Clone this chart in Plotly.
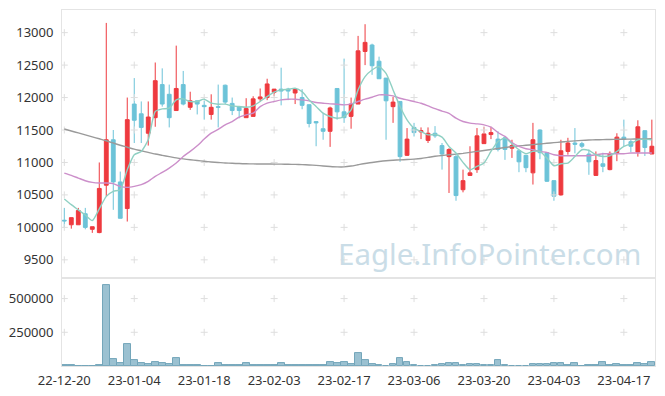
import plotly.graph_objects as go
from plotly.subplots import make_subplots

dates = [
    "2022-12-20", "2022-12-21", "2022-12-22", "2022-12-23", "2022-12-26", "2022-12-27", "2022-12-28", "2022-12-29",
    "2023-01-02", "2023-01-03", "2023-01-04", "2023-01-05", "2023-01-06", "2023-01-09", "2023-01-10", "2023-01-11",
    "2023-01-12", "2023-01-13", "2023-01-16", "2023-01-17", "2023-01-18", "2023-01-19", "2023-01-20", "2023-01-25",
    "2023-01-26", "2023-01-27", "2023-01-30", "2023-01-31", "2023-02-01", "2023-02-02", "2023-02-03", "2023-02-06",
    "2023-02-07", "2023-02-08", "2023-02-09", "2023-02-10", "2023-02-13", "2023-02-14", "2023-02-15", "2023-02-16",
    "2023-02-17", "2023-02-20", "2023-02-21", "2023-02-22", "2023-02-23", "2023-02-24", "2023-02-27", "2023-02-28",
    "2023-03-02", "2023-03-03", "2023-03-06", "2023-03-07", "2023-03-08", "2023-03-09", "2023-03-10", "2023-03-13",
    "2023-03-14", "2023-03-15", "2023-03-16", "2023-03-17", "2023-03-20", "2023-03-21", "2023-03-22", "2023-03-23",
    "2023-03-24", "2023-03-27", "2023-03-28", "2023-03-29", "2023-03-30", "2023-03-31", "2023-04-03", "2023-04-04",
    "2023-04-05", "2023-04-06", "2023-04-07", "2023-04-10", "2023-04-11", "2023-04-12", "2023-04-13", "2023-04-14",
    "2023-04-17", "2023-04-18", "2023-04-19", "2023-04-20", "2023-04-21",
]

open_ = [10110, 10040, 10040, 10210, 9970, 9920, 10650, 11350, 10700, 10290, 11900, 11750, 11450, 11690, 12200, 12050,
         11800, 12200, 11850, 11950, 11880, 11740, 11860, 12190, 11910, 11860, 11690, 11710, 11980, 12000, 12080, 12130,
         12130, 12070, 12000, 11890, 11630, 11520, 11480, 12140, 11780, 11710, 11900, 12710, 12810, 12560, 12300, 11860,
         11940, 11110, 11540, 11470, 11340, 11450, 11260, 11090, 11090, 10580, 10800, 10890, 11290, 11430, 11360, 11380,
         11220, 11180, 11110, 10840, 11500, 11150, 10720, 10500, 11170, 11300, 11290, 11130, 10800, 10980, 10890, 11150,
         11390, 11320, 11160, 11490, 11130]
high = [10300, 10150, 10300, 10300, 10010, 11000, 13150, 11500, 10860, 12000, 12300, 11940, 11940, 12540, 12450, 12200,
        12800, 12410, 12090, 11950, 11950, 12050, 12200, 12200, 12000, 11860, 11990, 12020, 12140, 12290, 12130, 12460,
        12150, 12140, 12130, 11890, 11630, 11760, 11860, 12140, 12600, 12000, 12950, 13130, 12830, 12630, 12300, 12010,
        11940, 11530, 11610, 11540, 11540, 11560, 11300, 11220, 11120, 10890, 11250, 11530, 11550, 11550, 11480, 11400,
        11350, 11200, 11110, 11610, 11510, 11160, 10720, 11350, 11380, 11530, 11320, 11200, 11170, 11150, 11170, 11450,
        11660, 11350, 11650, 11490, 11660]
low = [9990, 9980, 10040, 9970, 9915, 9910, 10480, 10270, 10140, 10090, 11300, 11300, 11260, 11550, 11860, 11540,
       11800, 11880, 11810, 11740, 11660, 11660, 11540, 11900, 11730, 11680, 11690, 11710, 11940, 11960, 12020, 11880,
       11960, 11900, 11820, 11540, 11250, 11350, 11240, 11660, 11610, 11520, 11900, 12500, 12350, 12290, 11350, 11610,
       11010, 11100, 11400, 11360, 11300, 11380, 10890, 10530, 10410, 10540, 10800, 10840, 11290, 11360, 11170, 11040,
       11070, 10850, 10850, 10660, 11050, 10700, 10410, 10490, 11120, 11140, 11220, 10810, 10800, 10850, 10880, 11020,
       11250, 11160, 11090, 11100, 11130]
close = [10100, 10150, 10260, 10000, 10010, 10600, 11350, 10700, 10140, 11660, 11650, 11540, 11700, 12260, 11900, 11690,
         12140, 11900, 11950, 11900, 11860, 11850, 11850, 11930, 11800, 11800, 11830, 11980, 12010, 12210, 12130, 12100,
         12100, 12130, 11880, 11600, 11610, 11480, 11840, 11780, 11690, 11900, 12720, 12850, 12490, 12290, 11950, 11930,
         11090, 11360, 11460, 11490, 11450, 11410, 11130, 11200, 10490, 10720, 10840, 11410, 11440, 11460, 11200, 11200,
         11260, 11010, 10920, 11350, 11150, 10710, 10480, 11180, 11300, 11280, 11250, 11010, 11030, 10940, 11140, 11390,
         11360, 11250, 11550, 11230, 11250]
volume = [5000, 5000, 0, 0, 0, 5000, 600000, 50000, 20000, 162000, 42000, 20000, 12000, 27000, 20000, 12000,
          62000, 5000, 5000, 5000, 0, 0, 25000, 5000, 5000, 5000, 20000, 5000, 5000, 5000, 5000, 20000,
          5000, 5000, 5000, 5000, 5000, 5000, 32000, 20000, 32000, 12000, 97500, 47500, 17500, 10000, 2500, 15000,
          62500, 32500, 10000, 2500, 2500, 7500, 15000, 22500, 22500, 5000, 15000, 15000, 5000, 10000, 47500, 5000,
          0, 2500, 2500, 15000, 15000, 15000, 22500, 22500, 10000, 22500, 0, 10000, 5000, 30000, 5000, 15000,
          10000, 5000, 22500, 15000, 30000]
ma_short = [10437, 10350, 10270, 10190, 10105, 10284, 10478, 10555, 10581, 10888, 11119, 11170, 11349, 11785, 11826, 11836,
            11964, 11980, 11939, 11939, 11975, 11913, 11898, 11898, 11872, 11862, 11851, 11872, 11939, 12015, 12082, 12118,
            12128, 12144, 12092, 11964, 11862, 11759, 11708, 11682, 11708, 11810, 12118, 12323, 12425, 12476, 12374, 12118,
            11862, 11657, 11529, 11477, 11426, 11430, 11390, 11247, 11145, 11001, 10888, 10939, 10991, 11170, 11324, 11375,
            11288, 11196, 11134, 11170, 11170, 11068, 10950, 10981, 10991, 11093, 11196, 11185, 11119, 11093, 11104, 11170,
            11247, 11288, 11349, 11360, 11349]
ma_mid = [10837, 10801, 10760, 10719, 10694, 10683, 10683, 10673, 10632, 10617, 10632, 10658, 10709, 10786, 10847, 10914,
          10991, 11093, 11170, 11257, 11360, 11452, 11510, 11580, 11631, 11698, 11734, 11759, 11860, 11915, 11939, 11964,
          11975, 11975, 11964, 11949, 11923, 11913, 11903, 11898, 11887, 11903, 11939, 11975, 12005, 12041, 12041, 12026,
          11990, 11964, 11939, 11913, 11872, 11830, 11792, 11755, 11682, 11631, 11606, 11595, 11580, 11544, 11462, 11401,
          11308, 11247, 11211, 11196, 11170, 11155, 11119, 11104, 11104, 11104, 11104, 11104, 11119, 11134, 11134, 11134,
          11134, 11145, 11145, 11145, 11145]
ma_long = [11515, 11485, 11455, 11425, 11395, 11365, 11335, 11300, 11265, 11235, 11205, 11180, 11155, 11130, 11110, 11090,
           11070, 11055, 11042, 11030, 11018, 11008, 11000, 10992, 10987, 10983, 10980, 10978, 10977, 10976, 10975, 10974,
           10972, 10970, 10966, 10962, 10955, 10946, 10938, 10932, 10932, 10945, 10965, 10985, 11000, 11015, 11027, 11035,
           11040, 11045, 11052, 11062, 11078, 11095, 11108, 11118, 11128, 11140, 11155, 11170, 11185, 11200, 11215, 11230,
           11245, 11255, 11265, 11275, 11285, 11295, 11305, 11315, 11325, 11333, 11340, 11345, 11350, 11352, 11355, 11357,
           11358, 11360, 11362, 11363, 11365]

tick_dates = ["2022-12-20", "2023-01-04", "2023-01-18", "2023-02-03", "2023-02-17",
              "2023-03-06", "2023-03-20", "2023-04-03", "2023-04-17"]
tick_labels = ["22-12-20", "23-01-04", "23-01-18", "23-02-03", "23-02-17",
               "23-03-06", "23-03-20", "23-04-03", "23-04-17"]
price_ticks = [9500, 10000, 10500, 11000, 11500, 12000, 12500, 13000]
volume_ticks = [250000, 500000]

UP = "#ee3a3f"
DOWN = "#6cc3d8"
FONT = "Noto Sans"

fig = make_subplots(rows=2, cols=1, shared_xaxes=True, vertical_spacing=0,
                    row_heights=[0.753, 0.247])

fig.add_trace(go.Candlestick(
    x=dates, open=open_, high=high, low=low, close=close,
    increasing=dict(line=dict(color=UP, width=1), fillcolor=UP),
    decreasing=dict(line=dict(color=DOWN, width=1), fillcolor=DOWN),
    whiskerwidth=0, showlegend=False), row=1, col=1)

fig.add_trace(go.Bar(x=dates, y=volume, width=0.98,
                     marker=dict(color="#9bc1d1", line=dict(color="#74a6ba", width=1)),
                     showlegend=False), row=2, col=1)

# grid crosses (decorative)
gx, gy = [], []
for d in tick_dates:
    for p in price_ticks:
        gx.append(d); gy.append(p)
fig.add_trace(go.Scatter(x=gx, y=gy, mode="markers", hoverinfo="skip",
                         marker=dict(symbol="cross-thin", size=5, line=dict(color="#dedede", width=1)),
                         showlegend=False), row=1, col=1)
vx, vy = [], []
for d in tick_dates:
    for v in volume_ticks:
        vx.append(d); vy.append(v)
fig.add_trace(go.Scatter(x=vx, y=vy, mode="markers", hoverinfo="skip",
                         marker=dict(symbol="cross-thin", size=5, line=dict(color="#dedede", width=1)),
                         showlegend=False), row=2, col=1)

for vals, col in [(ma_long, "#9a9a9a"), (ma_mid, "#cc8fca"), (ma_short, "#8fd0c3")]:
    fig.add_trace(go.Scatter(x=dates, y=vals, mode="lines",
                             line=dict(color=col, width=1.4, shape="spline", smoothing=0.6),
                             showlegend=False, hoverinfo="skip"), row=1, col=1)

axis_common = dict(showgrid=False, zeroline=False, showline=True, mirror=True,
                   linecolor="#e4e4e4", linewidth=1, automargin=False,
                   tickfont=dict(family=FONT, size=13, color="#333333"))

fig.update_xaxes(type="category", categoryorder="array", categoryarray=dates,
                 range=[-0.33, 84.45], tickmode="array", tickangle=0,
                 tickvals=tick_dates, ticktext=tick_labels, ticks="outside", ticklen=2,
                 tickcolor="rgba(0,0,0,0)", rangeslider_visible=False, **axis_common)
fig.update_xaxes(showticklabels=False, row=1, col=1)
fig.update_yaxes(range=[9219, 13349], tickmode="array", tickvals=price_ticks,
                 ticktext=[str(p) for p in price_ticks],
                 ticks="outside", ticklen=5, tickcolor="rgba(0,0,0,0)", row=1, col=1, **axis_common)
fig.update_yaxes(range=[0, 652000], tickmode="array", tickvals=volume_ticks,
                 ticktext=[str(v) for v in volume_ticks],
                 ticks="outside", ticklen=5, tickcolor="rgba(0,0,0,0)", row=2, col=1, **axis_common)

fig.add_annotation(text="Eagle.InfoPointer.com", xref="paper", yref="y",
                   x=0.98, y=9600, xanchor="right", yanchor="middle", showarrow=False,
                   font=dict(family=FONT, size=29.5, color="#cadde7"))

fig.update_layout(width=665, height=396, margin=dict(l=62, r=10, t=10, b=29.5),
                  paper_bgcolor="white", plot_bgcolor="white", bargap=0, boxgap=0.22,
                  showlegend=False)

fig.write_html("out.html", config={"displayModeBar": False},
               post_script="document.body.style.margin='0';")
